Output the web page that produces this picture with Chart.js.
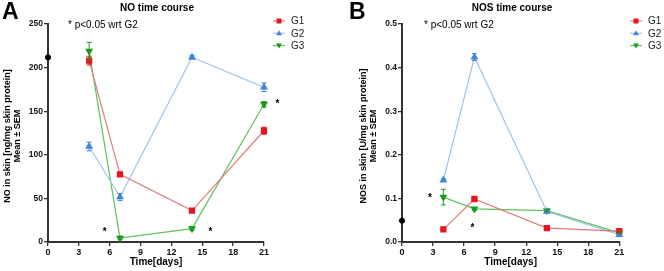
<!DOCTYPE html>
<html><head><meta charset="utf-8">
<script src="https://cdn.jsdelivr.net/npm/chart.js@4.4.1/dist/chart.umd.min.js"></script>
<style>
html,body{margin:0;padding:0;background:#fff;}
#wrap{display:flex;width:664px;height:271px;}
.p{position:relative;width:332px;height:271px;}
</style></head>
<body>
<div id="wrap"><div class="p"><canvas id="a" width="332" height="271"></canvas></div><div class="p"><canvas id="b" width="332" height="271"></canvas></div></div>
<script>
// ---- data ----
const days = [4, 7, 14, 21];
const groups = ['G1', 'G2', 'G3'];
const xTicks = [0, 3, 6, 9, 12, 15, 18, 21];

const noG1 = [208, 77.6, 36, 127.6];
const noG2 = [109.5, 51.6, 211.8, 177.5];
const noG3 = [219, 4.6, 15.3, 158];
const noG1Sem = [5, 2, 2, 4];
const noG2Sem = [5, 4, 2, 5];
const noG3Sem = [10, 2, 2, 3];
const noBaseline = 211.8;
const noStars = [[5.5, 14], [15.8, 14], [22.3, 160]];
const noYTicks = [0, 50, 100, 150, 200, 250];

const nosG1 = [0.029, 0.0986, 0.032, 0.025];
const nosG2 = [0.142, 0.424, 0.070, 0.017];
const nosG3 = [0.103, 0.076, 0.072, 0.021];
const nosG1Sem = [0.002, 0.003, 0.002, 0.002];
const nosG2Sem = [0.003, 0.008, 0.002, 0.002];
const nosG3Sem = [0.018, 0.003, 0.002, 0.002];
const nosBaseline = 0.049;
const nosStars = [[2.7, 0.106], [6.8, 0.035]];
const nosYTicks = [0, 0.1, 0.2, 0.3, 0.4, 0.5];

const lineColors = ['#e27a7a', '#9fc3ea', '#5cc25c'];
const markColors = ['#e8161e', '#3f86dd', '#1c9a1c'];
const styles = ['rect', 'triangle', 'triangle'];
const rots = [0, 0, 180];

function pts(vals){ return days.map((d,i)=>({x:d,y:vals[i]})); }

function makePanel(id, cfg){
  const series = cfg.series, sems = cfg.sems;
  const datasets = series.map((s,i)=>({
    label: groups[i], data: pts(s), borderColor: lineColors[i], backgroundColor: markColors[i],
    pointBorderColor: markColors[i], pointBackgroundColor: markColors[i],
    pointStyle: styles[i], pointRotation: rots[i], pointRadius: i===0?3.6:3.4, borderWidth: 1.2,
    showLine: true, clip: false
  }));
  datasets.push({label:'base', data:[{x:0,y:cfg.base}], pointRadius:2.6, pointBackgroundColor:'#000', pointBorderColor:'#000', showLine:false, clip:false});
  const deco = {
    id:'deco',
    afterDatasetsDraw(chart){
      const c = chart.ctx, xs = chart.scales.x, ys = chart.scales.y;
      c.save();
      // error bars
      series.forEach((s,i)=>{
        c.strokeStyle = markColors[i]; c.lineWidth = 1;
        days.forEach((d,j)=>{
          const px = xs.getPixelForValue(d);
          const t = ys.getPixelForValue(s[j]+sems[i][j]), b = ys.getPixelForValue(s[j]-sems[i][j]);
          c.beginPath(); c.moveTo(px,t); c.lineTo(px,b);
          c.moveTo(px-2.5,t); c.lineTo(px+2.5,t); c.moveTo(px-2.5,b); c.lineTo(px+2.5,b); c.stroke();
        });
      });
      // stars
      c.fillStyle = '#000'; c.font = 'bold 10px Arial, "Liberation Sans"'; c.textAlign='center'; c.textBaseline='middle';
      cfg.stars.forEach(s=>{ c.fillText('*', xs.getPixelForValue(s[0]), ys.getPixelForValue(s[1])+2); });
      // panel letter
      c.textAlign='left'; c.textBaseline='top';
      c.font = 'bold 23px Arial, "Liberation Sans"'; c.fillText(cfg.letter, cfg.letterX, 1);
      // title
      c.textAlign='center'; c.textBaseline='middle';
      c.font = 'bold 10px Arial, "Liberation Sans"'; c.fillText(cfg.title, cfg.titleX, 8);
      // note
      c.textAlign='left'; c.font = '10px Arial, "Liberation Sans"'; c.fillText('* p<0.05 wrt G2', cfg.noteX, 25);
      // x title
      c.textAlign='center'; c.font = 'bold 10px Arial, "Liberation Sans"';
      c.fillText('Time[days]', (xs.left+xs.right)/2, 262);
      // y title
      c.save(); c.translate(cfg.yt1, 136); c.rotate(-Math.PI/2);
      c.font = 'bold 9px Arial, "Liberation Sans"'; c.fillText(cfg.ytitle, 0, 0);
      c.restore();
      c.save(); c.translate(cfg.yt2, 136); c.rotate(-Math.PI/2);
      c.font = 'bold 9px Arial, "Liberation Sans"'; c.fillText('Mean \u00b1 SEM', 0, 0);
      c.restore();
      // legend
      groups.forEach((g,i)=>{
        const y = 21 + i*12.3, x0 = cfg.legX;
        c.strokeStyle = lineColors[i]; c.lineWidth = 1.2;
        c.beginPath(); c.moveTo(x0,y); c.lineTo(x0+12,y); c.stroke();
        c.fillStyle = markColors[i];
        const mx = x0+6;
        c.beginPath();
        if(i===0){ c.rect(mx-2.5,y-2.5,5,5); }
        else if(i===1){ c.moveTo(mx,y-3); c.lineTo(mx+3,y+2); c.lineTo(mx-3,y+2); c.closePath(); }
        else { c.moveTo(mx,y+3); c.lineTo(mx+3,y-2); c.lineTo(mx-3,y-2); c.closePath(); }
        c.fill();
        c.fillStyle = '#222'; c.textAlign='left'; c.textBaseline='middle';
        c.font = '10px Arial, "Liberation Sans"'; c.fillText(g, x0+18, y+0.5);
      });
      c.restore();
    }
  };
  new Chart(document.getElementById(id), {
    type: 'line',
    data: { datasets },
    plugins: [deco],
    options: {
      responsive: false, animation: false, events: [],
      layout: { padding: { left: 0, right: cfg.padR, top: 24, bottom: 0 } },
      plugins: { legend: { display: false }, tooltip: { enabled: false } },
      scales: {
        x: { type: 'linear', min: 0, max: 21,
          afterFit(s){ s.height = 29; },
          afterBuildTicks(s){ s.ticks = xTicks.map(v=>({value:v})); },
          grid: { display: true, drawOnChartArea: false, drawTicks: true, tickLength: 4, color: '#333', lineWidth: 1.3 },
          border: { display: true, color: '#333', width: 2 },
          ticks: { color: '#111', font: { size: 9, weight: 'bold', family: 'Arial, "Liberation Sans"' }, padding: 1, maxRotation: 0 } },
        y: { type: 'linear', min: 0, max: cfg.ymax,
          afterFit(s){ s.width = cfg.yW; },
          afterBuildTicks(s){ s.ticks = cfg.yTicks.map(v=>({value:v})); },
          grid: { display: true, drawOnChartArea: false, drawTicks: true, tickLength: 4, color: '#333', lineWidth: 1.3 },
          border: { display: true, color: '#333', width: 2 },
          ticks: { color: '#111', font: { size: 8.5, weight: 'bold', family: 'Arial, "Liberation Sans"' }, padding: 1,
            callback: cfg.fmt } }
      }
    }
  });
}

makePanel('a', { series:[noG1,noG2,noG3], sems:[noG1Sem,noG2Sem,noG3Sem], base:noBaseline, stars:noStars,
  yTicks:noYTicks, ymax:250, fmt:v=>String(v), letter:'A', letterX:2, title:'NO time course', titleX:157,
  noteX:68, ytitle:'NO in skin [ng/mg skin protein]', yt1:8, yt2:17.5, legX:273, padR:68, yW:48 });
makePanel('b', { series:[nosG1,nosG2,nosG3], sems:[nosG1Sem,nosG2Sem,nosG3Sem], base:nosBaseline, stars:nosStars,
  yTicks:nosYTicks, ymax:0.5, fmt:v=>v.toFixed(1), letter:'B', letterX:17, title:'NOS time course', titleX:180,
  noteX:92, ytitle:'NOS in skin [U/mg skin protein]', yt1:32, yt2:42, legX:298, padR:44.7, yW:70 });
</script>
</body></html>
